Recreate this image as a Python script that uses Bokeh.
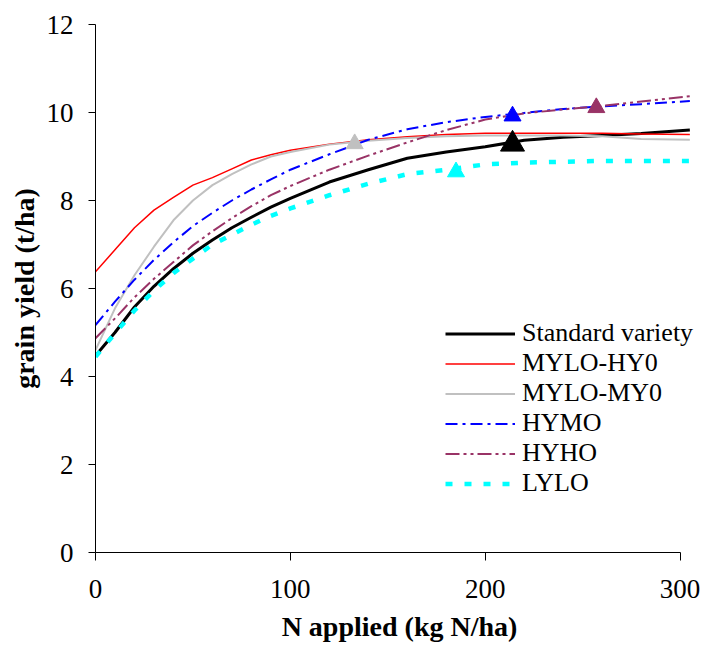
from bokeh.plotting import figure
from bokeh.models import Range1d, FixedTicker, Legend, LegendItem, ColumnDataSource
from bokeh.embed import file_html
from bokeh.resources import INLINE

# N applied (kg N/ha)
n_applied = [0, 10, 20, 30, 40, 50, 60, 70, 80, 90, 100, 120, 140, 160, 180, 200, 220, 240, 260, 280, 305]

standard = [4.47, 5.00, 5.58, 6.05, 6.45, 6.80, 7.10, 7.38, 7.62, 7.85, 8.05, 8.42, 8.70, 8.96, 9.10, 9.22, 9.37, 9.44, 9.48, 9.52, 9.60]
mylo_hy0 = [6.38, 6.88, 7.38, 7.78, 8.07, 8.35, 8.52, 8.72, 8.92, 9.04, 9.14, 9.28, 9.38, 9.45, 9.50, 9.53, 9.53, 9.53, 9.53, 9.51, 9.50]
mylo_my0 = [4.60, 5.55, 6.30, 6.95, 7.55, 8.00, 8.35, 8.60, 8.82, 9.00, 9.10, 9.27, 9.36, 9.42, 9.46, 9.48, 9.48, 9.48, 9.46, 9.40, 9.38]
hymo     = [5.17, 5.70, 6.20, 6.65, 7.05, 7.42, 7.72, 8.00, 8.25, 8.48, 8.70, 9.05, 9.38, 9.62, 9.78, 9.90, 9.99, 10.08, 10.14, 10.19, 10.26]
hyho     = [4.87, 5.32, 5.80, 6.22, 6.60, 6.98, 7.30, 7.60, 7.87, 8.12, 8.33, 8.70, 9.02, 9.32, 9.60, 9.84, 9.98, 10.07, 10.15, 10.25, 10.37]
lylo     = [4.45, 4.98, 5.50, 5.95, 6.35, 6.68, 7.00, 7.22, 7.45, 7.65, 7.82, 8.12, 8.38, 8.60, 8.70, 8.82, 8.86, 8.88, 8.90, 8.90, 8.90]

series_names = ["Standard variety", "MYLO-HY0", "MYLO-MY0", "HYMO", "HYHO", "LYLO"]

# optimum points (triangles)
opt_n = [214, 133, 214, 257, 185]
opt_y = [9.28, 9.29, 9.92, 10.11, 8.65]
opt_series = ["Standard variety", "MYLO-MY0", "HYMO", "HYHO", "LYLO"]

x_ticks = [0, 100, 200, 300]
y_ticks = [0, 2, 4, 6, 8, 10, 12]

styles = {
    "Standard variety": dict(line_color="#000000", line_width=3),
    "MYLO-HY0": dict(line_color="#FF0000", line_width=1.5),
    "MYLO-MY0": dict(line_color="#C0C0C0", line_width=2),
    "HYMO": dict(line_color="#0000FF", line_width=2, line_dash="12 5 3 5"),
    "HYHO": dict(line_color="#993366", line_width=2, line_dash="14 4 3 4 3 4"),
    "LYLO": dict(line_color="#00FFFF", line_width=4.5, line_dash="7 12"),
}
marker_sizes = {"Standard variety": 24, "MYLO-MY0": 17, "HYMO": 17, "HYHO": 17, "LYLO": 17}

SERIF = "Liberation Serif"

p = figure(frame_width=608, frame_height=528, output_backend="svg", toolbar_location=None,
           x_range=Range1d(0, 312), y_range=Range1d(0, 12),
           min_border_left=95, min_border_right=0, min_border_top=24, min_border_bottom=98)
p.outline_line_color = None
p.xgrid.visible = False
p.ygrid.visible = False
p.background_fill_color = "white"

for ax in (p.xaxis[0], p.yaxis[0]):
    ax.axis_line_color = "black"
    ax.axis_line_width = 1
    ax.major_tick_line_color = "black"
    ax.major_tick_in = 0
    ax.minor_tick_line_color = None
    ax.major_label_text_font = SERIF
    ax.major_label_text_font_size = "27px"
    ax.major_label_text_color = "black"
    ax.axis_label_text_font = SERIF
    ax.axis_label_text_font_style = "bold"
    ax.axis_label_text_font_size = "28px"
    ax.axis_label_text_color = "black"

p.xaxis.ticker = FixedTicker(ticks=x_ticks)
p.yaxis.ticker = FixedTicker(ticks=y_ticks)
p.xaxis.bounds = (0, 300)
p.xaxis.major_tick_out = 8
p.yaxis.major_tick_out = 7
p.xaxis.major_label_standoff = 19
p.yaxis.major_label_standoff = 15
p.xaxis.axis_label = "N applied (kg N/ha)"
p.yaxis.axis_label = "grain yield (t/ha)"
p.xaxis.axis_label_standoff = 10
p.yaxis.axis_label_standoff = 4

values = {
    "Standard variety": standard,
    "MYLO-HY0": mylo_hy0,
    "MYLO-MY0": mylo_my0,
    "HYMO": hymo,
    "HYHO": hyho,
    "LYLO": lylo,
}

items = []
for name in series_names:
    src = ColumnDataSource(dict(x=n_applied, y=values[name]))
    r = p.line("x", "y", source=src, line_cap="butt", line_join="round", **styles[name])
    items.append(LegendItem(label=name, renderers=[r]))

for n, y, name in zip(opt_n, opt_y, opt_series):
    c = styles[name]["line_color"]
    p.scatter(x=[n], y=[y], marker="triangle", size=marker_sizes[name],
              fill_color=c, line_color=c, line_width=1)

legend = Legend(items=items, location=(350, 54))
legend.glyph_width = 70
legend.glyph_height = 29
legend.label_height = 29
legend.label_standoff = 7
legend.spacing = 0
legend.padding = 0
legend.margin = 0
legend.border_line_color = None
legend.background_fill_alpha = 0
legend.label_text_font = SERIF
legend.label_text_font_size = "26px"
legend.label_text_color = "black"
p.add_layout(legend, "center")

open("out.html", "w").write(file_html(p, INLINE))
